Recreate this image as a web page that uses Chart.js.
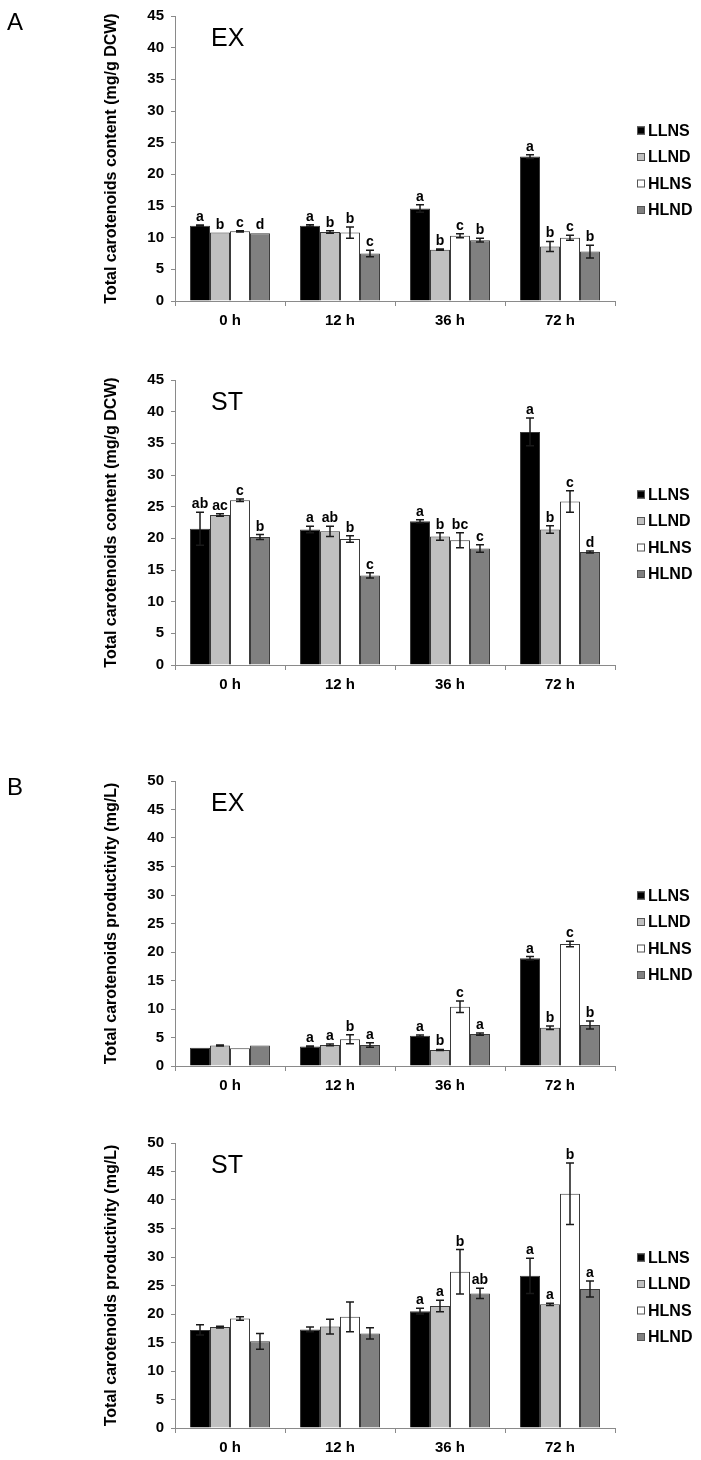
<!DOCTYPE html>
<html><head><meta charset="utf-8">
<script src="https://cdn.jsdelivr.net/npm/chart.js@4.4.1/dist/chart.umd.min.js"></script>
<style>
html,body{margin:0;padding:0;background:#fff;width:701px;height:1460px;overflow:hidden;}
.p{position:absolute;left:0;width:701px;height:336px;}
</style></head><body>
<div class="p" style="top:0px"><canvas id="c1" width="701" height="336"></canvas></div>
<div class="p" style="top:364px"><canvas id="c2" width="701" height="336"></canvas></div>
<div class="p" style="top:765px"><canvas id="c3" width="701" height="336"></canvas></div>
<div class="p" style="top:1127px"><canvas id="c4" width="701" height="336"></canvas></div>
<script>
const categories = ['0 h', '12 h', '36 h', '72 h'];
const seriesNames = ['LLNS', 'LLND', 'HLNS', 'HLND'];
const seriesColors = ['#000000', '#c0c0c0', '#ffffff', '#808080'];

// Panel A EX: content (mg/g DCW)
const aExLLNS = [11.9, 11.9, 14.6, 22.8];
const aExLLND = [10.8, 10.9, 8.1, 8.6];
const aExHLNS = [11.0, 10.8, 10.3, 10.0];
const aExHLND = [10.7, 7.5, 9.6, 7.8];
const aExErrLLNS = [0.1, 0.15, 0.6, 0.3];
const aExErrLLND = [0, 0.2, 0.1, 0.8];
const aExErrHLNS = [0.1, 0.9, 0.3, 0.4];
const aExErrHLND = [0, 0.5, 0.3, 1.0];
const aExLetLLNS = ['a', 'a', 'a', 'a'];
const aExLetLLND = ['b', 'b', 'b', 'b'];
const aExLetHLNS = ['c', 'b', 'c', 'c'];
const aExLetHLND = ['d', 'c', 'b', 'b'];

// Panel A ST: content (mg/g DCW)
const aStLLNS = [21.5, 21.4, 22.7, 36.8];
const aStLLND = [23.7, 21.1, 20.3, 21.4];
const aStHLNS = [26.0, 19.9, 19.7, 25.8];
const aStHLND = [20.2, 14.15, 18.4, 17.85];
const aStErrLLNS = [2.6, 0.5, 0.25, 2.2];
const aStErrLLND = [0.2, 0.8, 0.6, 0.6];
const aStErrHLNS = [0.2, 0.5, 1.2, 1.7];
const aStErrHLND = [0.4, 0.4, 0.6, 0.15];
const aStLetLLNS = ['ab', 'a', 'a', 'a'];
const aStLetLLND = ['ac', 'ab', 'b', 'b'];
const aStLetHLNS = ['c', 'b', 'bc', 'c'];
const aStLetHLND = ['b', 'c', 'c', 'd'];

// Panel B EX: productivity (mg/L)
const bExLLNS = [3.2, 3.4, 5.3, 18.9];
const bExLLND = [3.6, 3.7, 2.8, 6.7];
const bExHLNS = [3.1, 4.7, 10.4, 21.4];
const bExHLND = [3.6, 3.7, 5.6, 7.2];
const bExErrLLNS = [0, 0.1, 0.15, 0.3];
const bExErrLLND = [0.1, 0.15, 0.1, 0.3];
const bExErrHLNS = [0, 0.8, 1.0, 0.5];
const bExErrHLND = [0, 0.4, 0.2, 0.7];
const bExLetLLNS = ['', 'a', 'a', 'a'];
const bExLetLLND = ['', 'a', 'b', 'b'];
const bExLetHLNS = ['', 'b', 'c', 'c'];
const bExLetHLND = ['', 'a', 'a', 'b'];

// Panel B ST: productivity (mg/L)
const bStLLNS = [17.2, 17.3, 20.5, 26.7];
const bStLLND = [17.7, 17.8, 21.4, 21.7];
const bStHLNS = [19.2, 19.5, 27.4, 41.1];
const bStHLND = [15.2, 16.6, 23.6, 24.4];
const bStErrLLNS = [0.9, 0.4, 0.5, 3.1];
const bStErrLLND = [0.15, 1.3, 1.0, 0.2];
const bStErrHLNS = [0.3, 2.6, 3.9, 5.4];
const bStErrHLND = [1.4, 1.0, 0.9, 1.4];
const bStLetLLNS = ['', '', 'a', 'a'];
const bStLetLLND = ['', '', 'a', 'a'];
const bStLetHLNS = ['', '', 'b', 'b'];
const bStLetHLND = ['', '', 'ab', 'a'];

const yTitleA = 'Total carotenoids content (mg/g DCW)';
const yTitleB = 'Total carotenoids productivity (mg/L)';

const FONT = "'Liberation Sans', Arial, sans-serif";

const annotPlugin = {
  id: 'annot',
  afterDatasetsDraw(chart) {
    const ctx = chart.ctx;
    const ys = chart.scales.y;
    ctx.save();
    chart.data.datasets.forEach((ds, di) => {
      const meta = chart.getDatasetMeta(di);
      meta.data.forEach((bar, i) => {
        const v = ds.data[i], e = ds.errors[i];
        const yt = ys.getPixelForValue(v + e), yb = ys.getPixelForValue(v - e);
        if (e > 0) {
          ctx.strokeStyle = '#1a1a1a';
          ctx.lineWidth = 1.5;
          ctx.beginPath();
          ctx.moveTo(bar.x, yt); ctx.lineTo(bar.x, yb);
          ctx.moveTo(bar.x - 4, yt); ctx.lineTo(bar.x + 4, yt);
          ctx.moveTo(bar.x - 4, yb); ctx.lineTo(bar.x + 4, yb);
          ctx.stroke();
        }
        const L = ds.letters[i];
        if (L) {
          ctx.fillStyle = '#000';
          ctx.font = 'bold 14px ' + FONT;
          ctx.textAlign = 'center';
          ctx.textBaseline = 'alphabetic';
          ctx.fillText(L, bar.x, Math.min(yt, ys.getPixelForValue(v)) - 4);
        }
      });
    });
    ctx.restore();
  },
  afterDraw(chart, args, opts) {
    const ctx = chart.ctx;
    const ca = chart.chartArea;
    ctx.save();
    // legend
    const lx = ca.right + 22;
    ctx.font = 'bold 16px ' + FONT;
    ctx.textAlign = 'left';
    ctx.textBaseline = 'middle';
    chart.data.datasets.forEach((ds, k) => {
      const cy = ca.top + 114.5 + k * 26.5;
      ctx.fillStyle = ds.backgroundColor;
      ctx.fillRect(lx, cy - 4, 8, 8);
      ctx.strokeStyle = '#555';
      ctx.lineWidth = 1;
      ctx.strokeRect(lx + 0.5, cy - 3.5, 7, 7);
      ctx.fillStyle = '#000';
      ctx.fillText(ds.label, lx + 11, cy + 1);
    });
    // sub label
    ctx.font = '25px ' + FONT;
    ctx.textBaseline = 'alphabetic';
    ctx.fillText(opts.sub, ca.left + 36, ca.top + 30);
    if (opts.tag) {
      ctx.font = '24px ' + FONT;
      ctx.fillText(opts.tag, 7, 30);
    }
    ctx.restore();
  }
};

function makeChart(id, vals, errs, lets, yMax, yTitle, sub, tag) {
  const datasets = seriesNames.map((n, k) => ({
    label: n,
    data: vals[k],
    errors: errs[k],
    letters: lets[k],
    backgroundColor: seriesColors[k],
    borderColor: '#3a3a3a',
    borderWidth: 1,
    categoryPercentage: 0.727,
    barPercentage: 1.0
  }));
  return new Chart(document.getElementById(id), {
    type: 'bar',
    data: { labels: categories, datasets },
    plugins: [annotPlugin],
    options: {
      responsive: false,
      animation: false,
      layout: { padding: { top: 13, right: 86, bottom: 0, left: 0 } },
      plugins: {
        legend: { display: false },
        tooltip: { enabled: false },
        annot: { sub, tag }
      },
      scales: {
        x: {
          afterFit: s => { s.height = 35; },
          grid: { display: true, drawOnChartArea: false, drawTicks: true, tickLength: 5, color: '#8a8a8a', offset: true },
          border: { color: '#8a8a8a', width: 1 },
          ticks: { color: '#000', font: { family: FONT, size: 15, weight: 'bold' }, padding: 6 }
        },
        y: {
          min: 0, max: yMax,
          afterFit: s => { s.width = 175; },
          grid: { display: true, drawOnChartArea: false, drawTicks: true, tickLength: 4, color: '#8a8a8a' },
          border: { color: '#8a8a8a', width: 1 },
          ticks: { stepSize: 5, color: '#000', font: { family: FONT, size: 15, weight: 'bold' }, padding: 7 },
          title: { display: true, text: yTitle, color: '#000', font: { family: FONT, size: 16, weight: 'bold' }, padding: { top: 102, bottom: 0 } }
        }
      }
    }
  });
}

makeChart('c1', [aExLLNS, aExLLND, aExHLNS, aExHLND], [aExErrLLNS, aExErrLLND, aExErrHLNS, aExErrHLND],
  [aExLetLLNS, aExLetLLND, aExLetHLNS, aExLetHLND], 45, yTitleA, 'EX', 'A');
makeChart('c2', [aStLLNS, aStLLND, aStHLNS, aStHLND], [aStErrLLNS, aStErrLLND, aStErrHLNS, aStErrHLND],
  [aStLetLLNS, aStLetLLND, aStLetHLNS, aStLetHLND], 45, yTitleA, 'ST', '');
makeChart('c3', [bExLLNS, bExLLND, bExHLNS, bExHLND], [bExErrLLNS, bExErrLLND, bExErrHLNS, bExErrHLND],
  [bExLetLLNS, bExLetLLND, bExLetHLNS, bExLetHLND], 50, yTitleB, 'EX', 'B');
makeChart('c4', [bStLLNS, bStLLND, bStHLNS, bStHLND], [bStErrLLNS, bStErrLLND, bStErrHLNS, bStErrHLND],
  [bStLetLLNS, bStLetLLND, bStLetHLNS, bStLetHLND], 50, yTitleB, 'ST', '');
</script>
</body></html>
